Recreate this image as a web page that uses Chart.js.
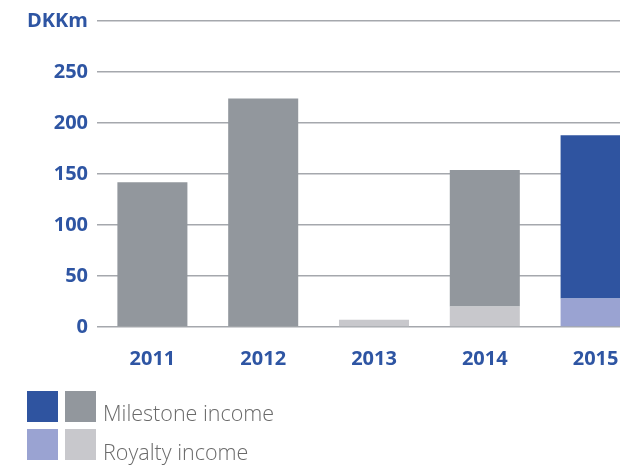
<!DOCTYPE html>
<html lang="en">
<head>
    <meta charset="UTF-8">
    <title>DKKm income</title>
    <script src="https://cdn.jsdelivr.net/npm/chart.js"></script>
    <style>
        html, body { margin: 0; padding: 0; background: #fff; overflow: hidden; width: 620px; height: 465px; }
        #wrap { position: relative; width: 620px; height: 465px; overflow: hidden; }
        #chart { position: absolute; left: 0; top: 0; }
        .sw { position: absolute; width: 31px; height: 31px; }
        .lbl { position: absolute; font-family: "Open Sans", sans-serif; font-weight: 300; font-size: 21.5px; line-height: 22px; color: #6a6a6a; white-space: nowrap; }
    </style>
</head>
<body>
    <div id="wrap">
        <canvas id="chart" width="651" height="465"></canvas>
        <div class="sw" style="left:27px; top:391px; background:#2f54a0;"></div>
        <div class="sw" style="left:65px; top:391px; background:#92979d;"></div>
        <div class="lbl" style="left:103px; top:402px;">Milestone income</div>
        <div class="sw" style="left:27px; top:429px; background:#9aa3d2;"></div>
        <div class="sw" style="left:65px; top:429px; background:#c8c8cc;"></div>
        <div class="lbl" style="left:103px; top:441px;">Royalty income</div>
    </div>

    <script>
        // data
        const years = ['2011', '2012', '2013', '2014', '2015'];
        const royalty = [0, 0, 7, 20, 28];
        const milestone = [142, 224, 0, 134, 160];

        const blue = '#2e55a3';
        // 2015 is drawn in blue, earlier years in grey
        const milestoneColors = ['#92979d', '#92979d', '#92979d', '#92979d', '#2f54a0'];
        const royaltyColors = ['#c8c8cc', '#c8c8cc', '#c8c8cc', '#c8c8cc', '#9aa3d2'];

        const ctx = document.getElementById('chart').getContext('2d');
        new Chart(ctx, {
            type: 'bar',
            data: {
                labels: years,
                datasets: [
                    {
                        label: 'Royalty income',
                        data: royalty,
                        backgroundColor: royaltyColors
                    },
                    {
                        label: 'Milestone income',
                        data: milestone,
                        backgroundColor: milestoneColors
                    }
                ]
            },
            options: {
                responsive: false,
                animation: false,
                categoryPercentage: 1,
                barPercentage: 0.632,
                layout: { padding: { top: 19, right: 0, bottom: 85, left: 0 } },
                plugins: {
                    legend: { display: false },
                    tooltip: { enabled: false }
                },
                scales: {
                    x: {
                        stacked: true,
                        grid: { display: false },
                        border: { display: false },
                        ticks: {
                            color: blue,
                            padding: 12,
                            font: { family: 'Open Sans', weight: 'bold', size: 20 }
                        },
                        afterFit: (scale) => { scale.height = 53; }
                    },
                    y: {
                        stacked: true,
                        min: 0,
                        max: 300,
                        border: { display: false },
                        grid: { color: '#a5a8ad', lineWidth: 1.5, drawTicks: false },
                        ticks: {
                            stepSize: 50,
                            color: blue,
                            padding: 9,
                            font: { family: 'Open Sans', weight: 'bold', size: 20 },
                            callback: (v) => v === 300 ? 'DKKm' : v
                        },
                        afterFit: (scale) => { scale.width = 97; }
                    }
                }
            }
        });
    </script>
</body>
</html>
